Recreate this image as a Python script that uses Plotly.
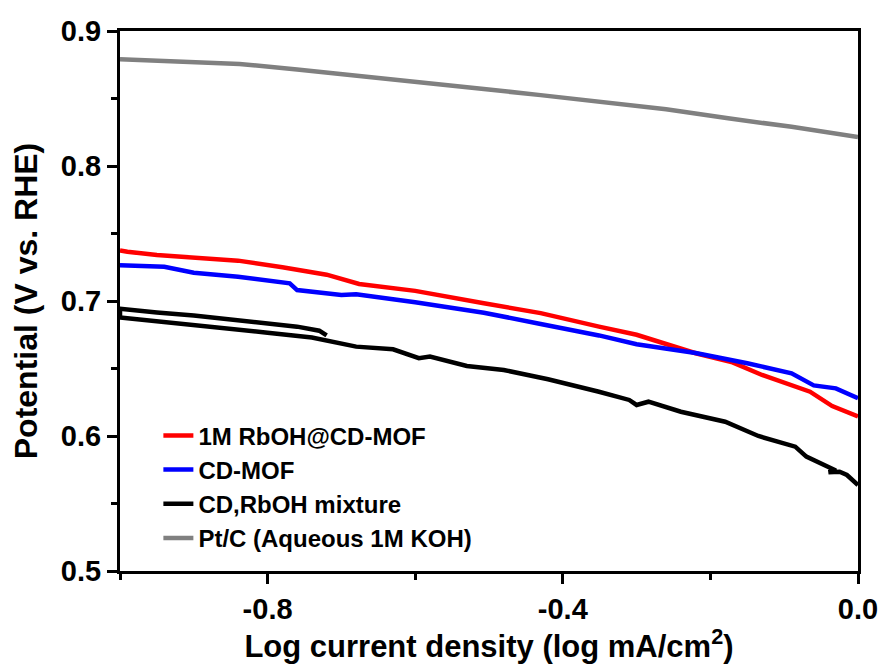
import plotly.graph_objects as go

# Tafel-type polarisation curves: potential vs. log current density
x_rboh = [-1.0, -0.99, -0.95, -0.90, -0.84, -0.78, -0.72, -0.676, -0.60, -0.507,
          -0.43, -0.351, -0.30, -0.22, -0.17, -0.13, -0.09, -0.065, -0.035, 0.0]
y_rboh = [0.7375, 0.7365, 0.734, 0.732, 0.7299, 0.725, 0.7195, 0.7126, 0.7075, 0.6983,
          0.691, 0.681, 0.675, 0.6613, 0.6545, 0.6452, 0.6375, 0.6328, 0.6222, 0.6145]

x_cdmof = [-1.0, -0.94, -0.90, -0.84, -0.77, -0.76, -0.70, -0.68, -0.60, -0.507,
           -0.43, -0.351, -0.30, -0.22, -0.15, -0.09, -0.06, -0.03, 0.0]
y_cdmof = [0.7265, 0.7254, 0.721, 0.718, 0.7131, 0.7081, 0.7045, 0.705, 0.699, 0.6913,
           0.683, 0.6745, 0.668, 0.6615, 0.6539, 0.6464, 0.6375, 0.6353, 0.628]

# mixture: short return sweep near the start, then the main sweep
x_mix = [-0.72, -0.73, -0.76, -0.80, -0.85, -0.90, -0.95, -1.0,
         -1.0, -0.95, -0.90, -0.85, -0.80, -0.74, -0.72, -0.68, -0.63, -0.595,
         -0.58, -0.53, -0.48, -0.42, -0.351, -0.31, -0.30, -0.284, -0.24, -0.18,
         -0.135, -0.085, -0.07, -0.045, -0.03, -0.04, -0.025, -0.015, 0.0]
y_mix = [0.6745, 0.678, 0.681, 0.6835, 0.687, 0.6893, 0.6915, 0.6942,
         0.6878, 0.685, 0.6825, 0.680, 0.6765, 0.673, 0.671, 0.6662, 0.6642, 0.6576,
         0.6588, 0.6519, 0.6489, 0.642, 0.6328, 0.6267, 0.623, 0.6254, 0.618, 0.6106,
         0.600, 0.5921, 0.5847, 0.5785, 0.5745, 0.5732, 0.5735, 0.5711, 0.5637]

x_ptc = [-1.0, -0.92, -0.838, -0.76, -0.676, -0.59, -0.507, -0.43, -0.351,
         -0.26, -0.176, -0.09, 0.0]
y_ptc = [0.879, 0.8775, 0.8756, 0.8715, 0.8669, 0.862, 0.857, 0.8525, 0.8478,
         0.842, 0.8353, 0.829, 0.8215]

x_ticks = [-0.8, -0.4, 0.0]
x_ticktext = ["-0.8", "-0.4", "0.0"]
y_ticks = [0.5, 0.6, 0.7, 0.8, 0.9]
y_ticktext = ["0.5", "0.6", "0.7", "0.8", "0.9"]

FONT = "Liberation Sans, Arial, sans-serif"

series = [
    ("1M RbOH@CD-MOF", x_rboh, y_rboh, "#ff0000"),
    ("CD-MOF", x_cdmof, y_cdmof, "#0000ff"),
    ("CD,RbOH mixture", x_mix, y_mix, "#000000"),
    ("Pt/C (Aqueous 1M KOH)", x_ptc, y_ptc, "#808080"),
]

fig = go.Figure()
for name, xs, ys, color in series:
    fig.add_trace(go.Scatter(x=xs, y=ys, mode="lines", name=name,
                             line=dict(color=color, width=4.5)))

axis_common = dict(
    showline=True, linecolor="black", linewidth=3, mirror=True,
    showgrid=False, zeroline=False, automargin=False,
    ticks="outside", ticklen=10, tickwidth=3, tickcolor="black",
    tickfont=dict(family=FONT, size=29, color="black", weight="bold"),
)

fig.update_xaxes(
    range=[-1.0, 0.0], tickmode="array", tickvals=x_ticks, ticktext=x_ticktext,
    minor=dict(tickmode="linear", tick0=0, dtick=0.2, ticks="outside",
               ticklen=6, tickwidth=3, tickcolor="black"),
    title=dict(text="Log current density (log mA/cm<sup>2</sup>)",
               font=dict(family=FONT, size=31, color="black", weight="bold"),
               standoff=8),
    **axis_common,
)
fig.update_yaxes(
    range=[0.5, 0.9], tickmode="array", tickvals=y_ticks, ticktext=y_ticktext,
    minor=dict(tickmode="linear", tick0=0.5, dtick=0.05, ticks="outside",
               ticklen=6, tickwidth=3, tickcolor="black"),
    title=dict(text="Potential (V vs. RHE)",
               font=dict(family=FONT, size=32, color="black", weight="bold"),
               standoff=14),
    **axis_common,
)

fig.update_layout(
    width=880, height=664,
    margin=dict(l=120, r=22, t=31, b=93),
    paper_bgcolor="white", plot_bgcolor="white",
    showlegend=True,
    legend=dict(x=0.052, y=0.292, xanchor="left", yanchor="top",
                bgcolor="rgba(0,0,0,0)", borderwidth=0,
                font=dict(family=FONT, size=24, color="black", weight="bold"),
                tracegroupgap=0),
)

fig.write_html("out.html")
